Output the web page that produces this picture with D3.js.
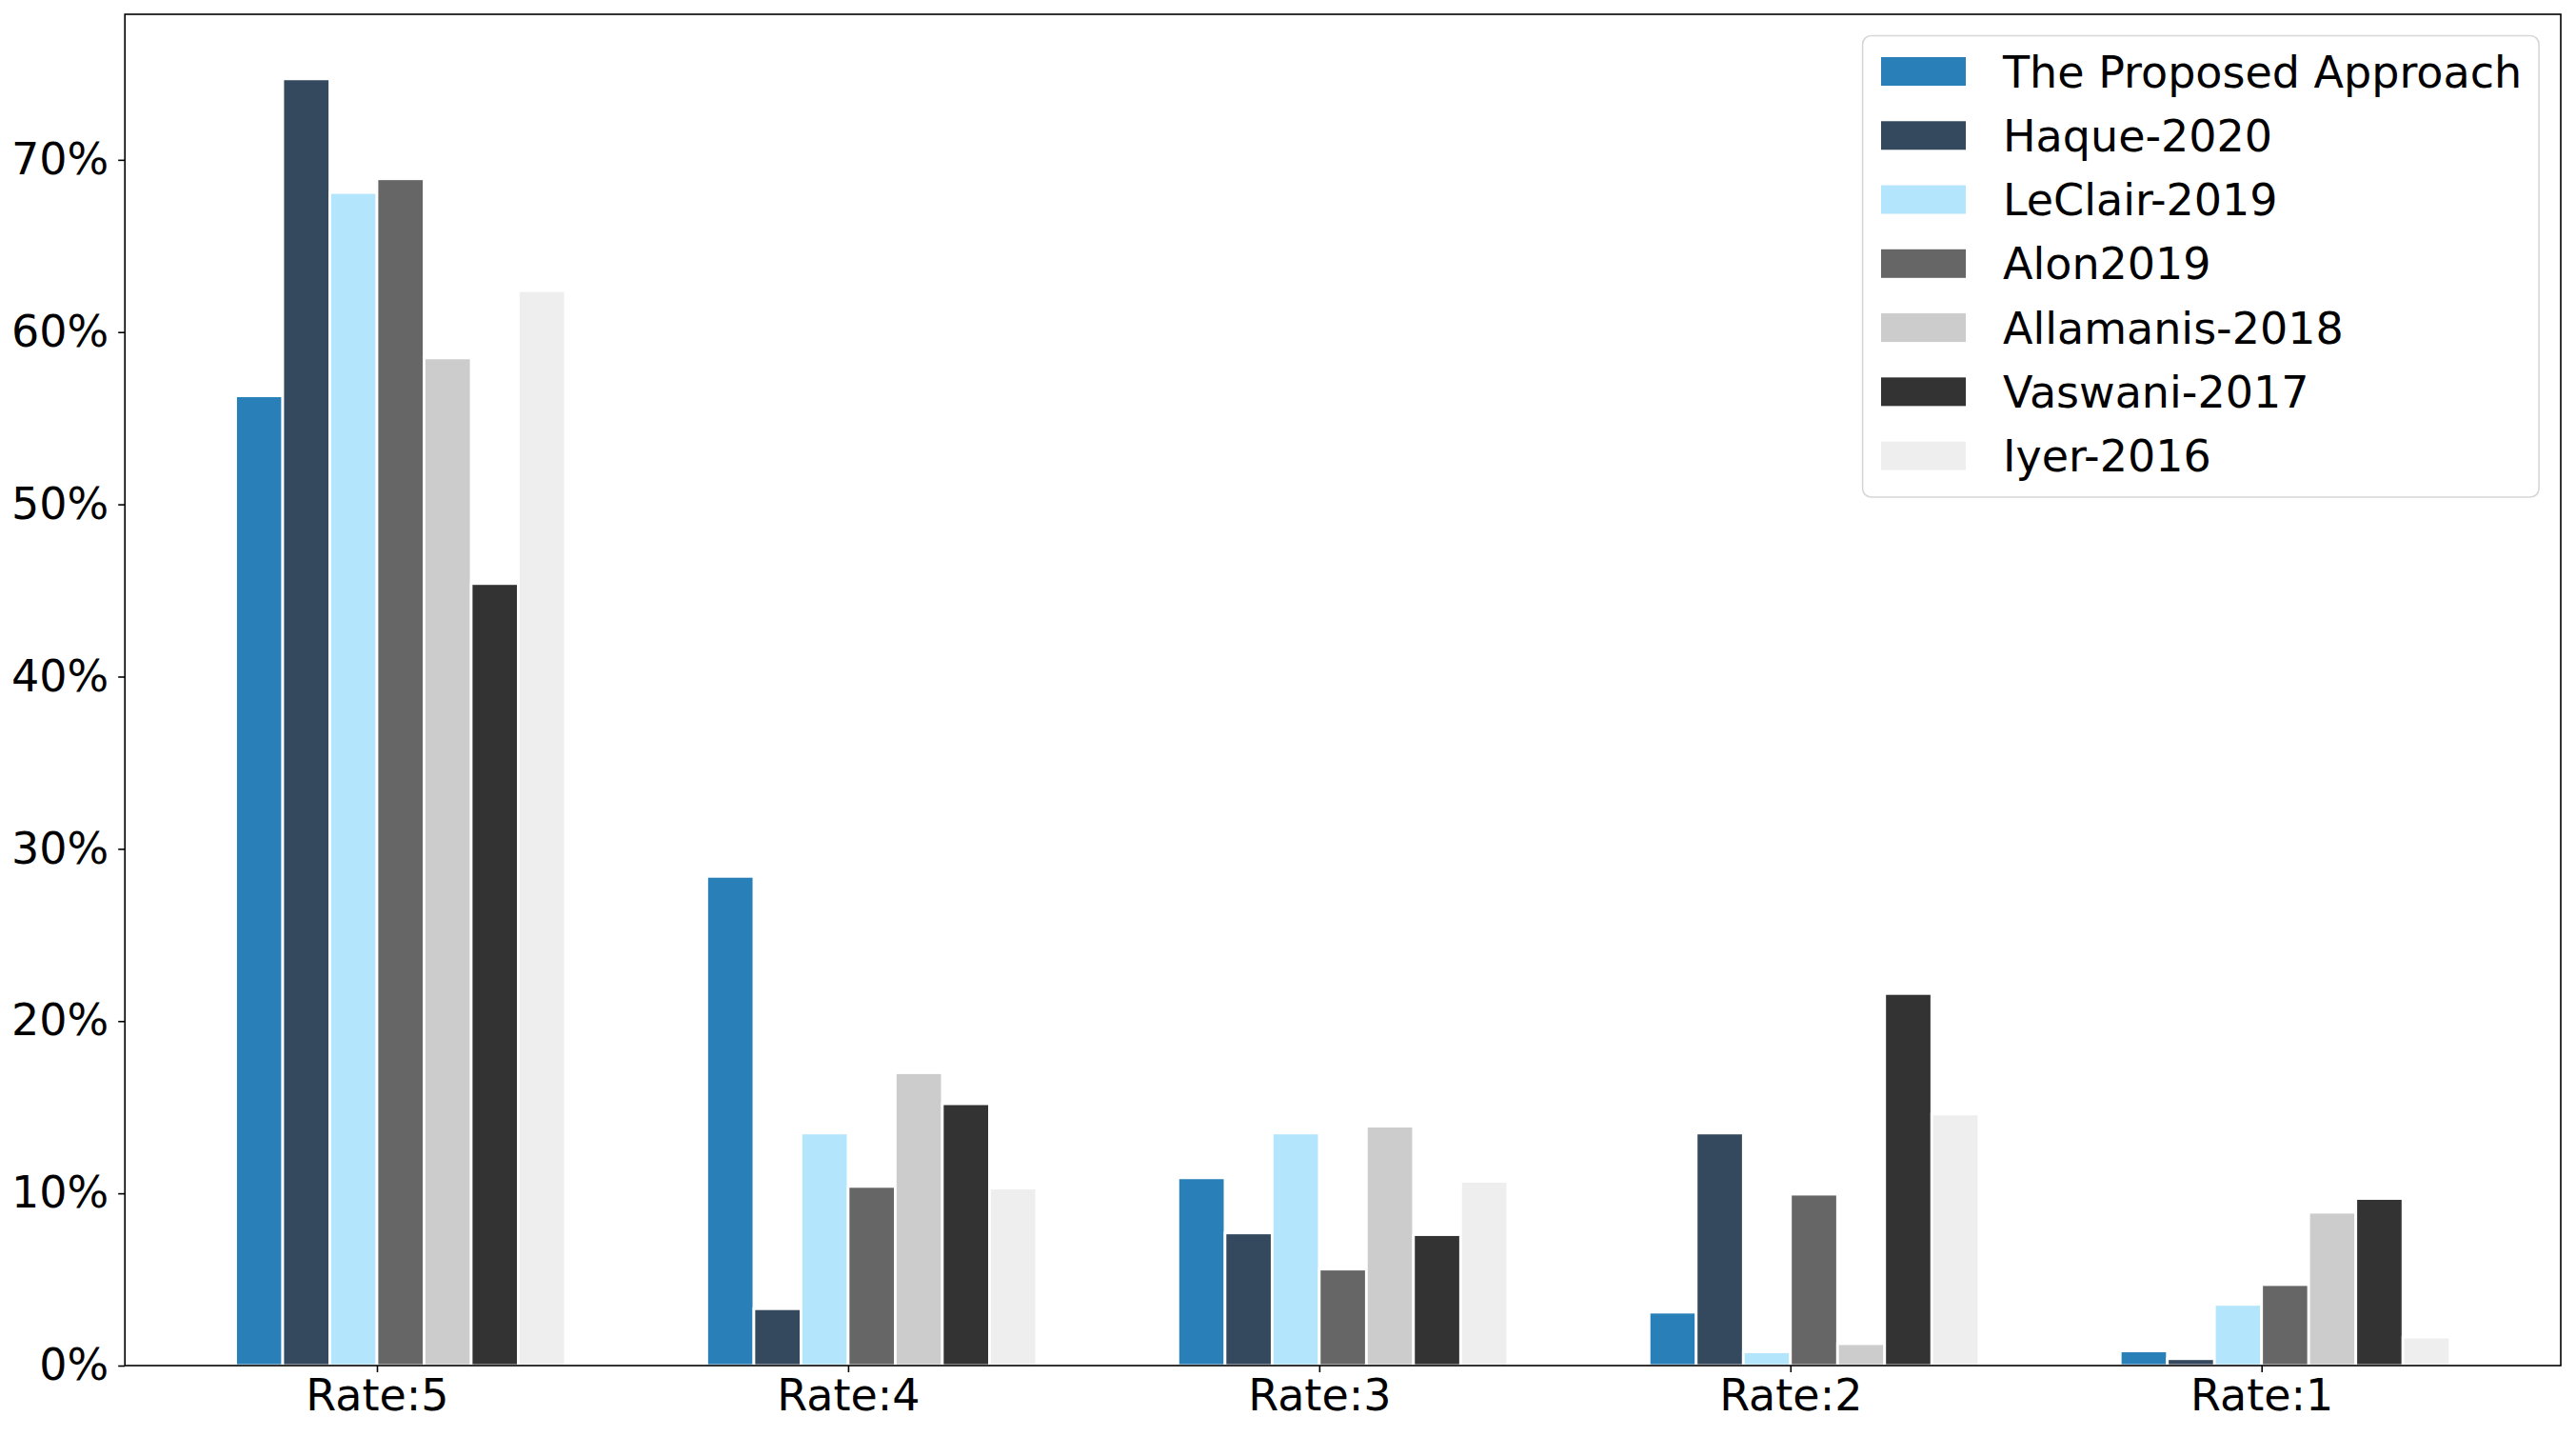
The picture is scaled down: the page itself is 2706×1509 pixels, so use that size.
<!DOCTYPE html>
<html>
<head>
<meta charset="utf-8">
<script src="https://cdn.jsdelivr.net/npm/d3@7"></script>
<style>
  html, body { margin: 0; padding: 0; background: #fff; }
  svg { display: block; }
  text { font-family: "DejaVu Sans", sans-serif; fill: #000; }
</style>
</head>
<body>
<script>
// categories on the x axis
const categories = ["Rate:5", "Rate:4", "Rate:3", "Rate:2", "Rate:1"];

// series names, one per bar in each group
const seriesNames = [
  "The Proposed Approach",
  "Haque-2020",
  "LeClair-2019",
  "Alon2019",
  "Allamanis-2018",
  "Vaswani-2017",
  "Iyer-2016"
];

const seriesColors = ["#2980b9", "#34495e", "#b3e5fc", "#666666", "#cccccc", "#333333", "#eeeeee"];

// percentages per series, in category order (Rate:5 .. Rate:1)
const proposed  = [56.3, 28.4, 10.9, 3.1, 0.85];
const haque     = [74.7, 3.3, 7.7, 13.5, 0.4];
const leclair   = [68.1, 13.5, 13.5, 0.8, 3.55];
const alon      = [68.9, 10.4, 5.6, 9.95, 4.7];
const allamanis = [58.5, 17.0, 13.9, 1.27, 8.9];
const vaswani   = [45.4, 15.2, 7.6, 21.6, 9.7];
const iyer      = [62.4, 10.3, 10.7, 14.6, 1.65];

const seriesValues = [proposed, haque, leclair, alon, allamanis, vaswani, iyer];

const yTicks = [0, 10, 20, 30, 40, 50, 60, 70];

const width = 2706, height = 1509;
const margin = { left: 131.2, right: width - 2690, top: 15, bottom: height - 1434 };
const fontSize = 46;
const barWidth = 0.1;

const svg = d3.select("body").append("svg")
    .attr("width", width)
    .attr("height", height);

// x is a linear scale: group j sits at j, bars offset by (i-3)*barWidth
const xScale = d3.scaleLinear()
    .domain([-0.535, 4.635])
    .range([margin.left, width - margin.right]);

const yScale = d3.scaleLinear()
    .domain([0, 78.45])
    .range([height - margin.bottom, margin.top]);

// bars
const rows = [];
seriesValues.forEach((vals, i) => {
  vals.forEach((v, j) => rows.push({ s: i, c: j, v: v }));
});

svg.append("g")
    .selectAll("rect")
    .data(rows)
    .enter()
    .append("rect")
    .attr("x", d => xScale(d.c + (d.s - 3) * barWidth))
    .attr("width", d => xScale(barWidth) - xScale(0))
    .attr("y", d => yScale(d.v))
    .attr("height", d => yScale(0) - yScale(d.v))
    .attr("fill", d => seriesColors[d.s])
    .attr("stroke", "#fff")
    .attr("stroke-width", 2.8);

// X axis
const xAxis = svg.append("g")
    .attr("transform", "translate(0," + yScale(0) + ")")
    .call(d3.axisBottom(xScale)
        .tickValues(d3.range(categories.length))
        .tickFormat(i => categories[i])
        .tickSizeInner(7).tickSizeOuter(0).tickPadding(7));

// Y axis
const yAxis = svg.append("g")
    .attr("transform", "translate(" + margin.left + ",0)")
    .call(d3.axisLeft(yScale)
        .tickValues(yTicks)
        .tickFormat(d => d + "%")
        .tickSizeInner(7).tickSizeOuter(0).tickPadding(10));

[xAxis, yAxis].forEach(ax => {
  ax.select(".domain").remove();
  ax.selectAll(".tick line").attr("stroke", "#000").attr("stroke-width", 1.6);
  ax.selectAll(".tick text")
      .attr("font-size", fontSize)
      .attr("font-family", "DejaVu Sans")
      .attr("fill", "#000");
});

// frame (drawn over bars, like matplotlib spines)
svg.append("rect")
    .attr("x", margin.left)
    .attr("y", margin.top)
    .attr("width", width - margin.left - margin.right)
    .attr("height", height - margin.top - margin.bottom)
    .attr("fill", "none")
    .attr("stroke", "#000")
    .attr("stroke-width", 1.6);

// legend
const legend = svg.append("g");
const lgX = 1956.6, lgY = 37.5, lgW = 710.5, lgH = 484.5;
const rowStep = 67.27, firstRow = 75;

legend.append("rect")
    .attr("x", lgX).attr("y", lgY)
    .attr("width", lgW).attr("height", lgH)
    .attr("rx", 9).attr("ry", 9)
    .attr("fill", "#fff").attr("fill-opacity", 0.8)
    .attr("stroke", "#d6d6d6").attr("stroke-width", 1.6);

const items = legend.selectAll("g.item")
    .data(seriesNames)
    .enter()
    .append("g")
    .attr("class", "item")
    .attr("transform", (d, i) => "translate(0," + (firstRow + i * rowStep) + ")");

items.append("rect")
    .attr("x", 1976).attr("y", -15)
    .attr("width", 89).attr("height", 30)
    .attr("fill", (d, i) => seriesColors[i]);

items.append("text")
    .attr("x", 2104)
    .attr("dy", "0.36em")
    .attr("font-size", fontSize)
    .text(d => d);
</script>
</body>
</html>
